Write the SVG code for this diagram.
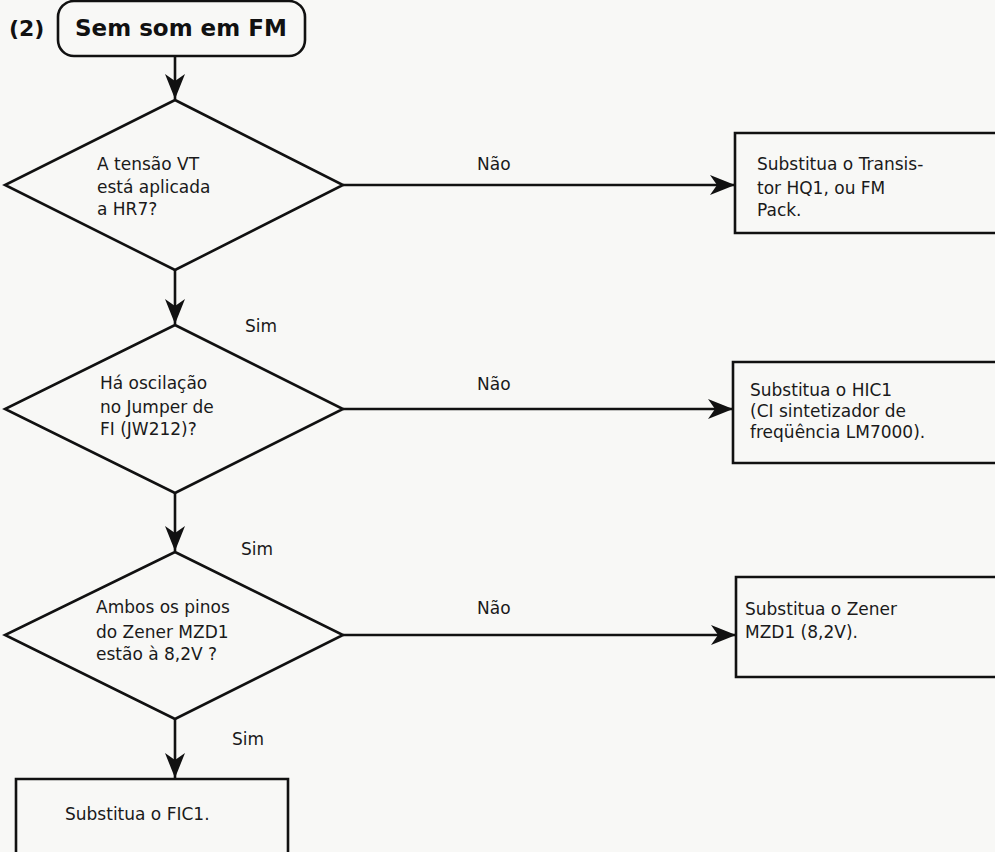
<svg xmlns="http://www.w3.org/2000/svg" width="995" height="852" viewBox="0 0 995 852">
<style>
  .bg { fill: #f8f8f6; }
  .shape { fill: none; stroke: #111; stroke-width: 2.6; stroke-linejoin: miter; }
  .conn { fill: none; stroke: #111; stroke-width: 2.6; }
  .t { font-family: "DejaVu Sans", "Liberation Sans", sans-serif; font-size: 17px; fill: #1a1a1a; }
  .title { font-family: "DejaVu Sans", "Liberation Sans", sans-serif; font-size: 23px; font-weight: bold; fill: #111; }
</style>
<defs>
  <marker id="arr" markerUnits="userSpaceOnUse" markerWidth="26" markerHeight="20" refX="25" refY="10" orient="auto">
    <path d="M0,0 L25,10 L0,20 L7,10 Z" fill="#111"/>
  </marker>
</defs>
<rect class="bg" x="0" y="0" width="995" height="852"/>

<g id="title">
  <text class="title" x="9" y="36" style="font-size:22px">(2)</text>
  <rect class="shape" x="58" y="1" width="247" height="55" rx="16"/>
  <text class="title" x="75" y="36">Sem som em FM</text>
</g>

<g id="d1">
  <polygon class="shape" points="175,100 343,185 175,270 5,185"/>
  <text class="t" x="97" y="170">A tensão VT</text>
  <text class="t" x="97" y="193">está aplicada</text>
  <text class="t" x="97" y="215">a HR7?</text>
</g>

<g id="b1">
  <path class="shape" d="M1000,133 H735 V233 H1000"/>
  <text class="t" x="757" y="170">Substitua o Transis-</text>
  <text class="t" x="757" y="194">tor HQ1, ou FM</text>
  <text class="t" x="757" y="216">Pack.</text>
</g>

<g id="d2">
  <polygon class="shape" points="175,325 343,409 175,493 5,409"/>
  <text class="t" x="100" y="389">Há oscilação</text>
  <text class="t" x="100" y="413">no Jumper de</text>
  <text class="t" x="100" y="435">FI (JW212)?</text>
</g>

<g id="b2">
  <path class="shape" d="M1000,362 H733 V463 H1000"/>
  <text class="t" x="750" y="396">Substitua o HIC1</text>
  <text class="t" x="750" y="417">(CI sintetizador de</text>
  <text class="t" x="750" y="438">freqüência LM7000).</text>
</g>

<g id="d3">
  <polygon class="shape" points="175,552 343,635 175,719 5,635"/>
  <text class="t" x="96" y="613">Ambos os pinos</text>
  <text class="t" x="96" y="638">do Zener MZD1</text>
  <text class="t" x="96" y="660">estão à 8,2V ?</text>
</g>

<g id="b3">
  <path class="shape" d="M1000,577 H736 V677 H1000"/>
  <text class="t" x="745" y="615">Substitua o Zener</text>
  <text class="t" x="745" y="638">MZD1 (8,2V).</text>
</g>

<g id="b4">
  <path class="shape" d="M16,860 V779 H288 V860"/>
  <text class="t" x="65" y="820">Substitua o FIC1.</text>
</g>

<g id="connectors">
  <line class="conn" x1="175" y1="56" x2="175" y2="99" marker-end="url(#arr)"/>
  <line class="conn" x1="343" y1="185" x2="735" y2="185" marker-end="url(#arr)"/>
  <line class="conn" x1="175" y1="270" x2="175" y2="324" marker-end="url(#arr)"/>
  <line class="conn" x1="343" y1="409" x2="733" y2="409" marker-end="url(#arr)"/>
  <line class="conn" x1="175" y1="493" x2="175" y2="551" marker-end="url(#arr)"/>
  <line class="conn" x1="343" y1="635" x2="736" y2="635" marker-end="url(#arr)"/>
  <line class="conn" x1="175" y1="719" x2="175" y2="778" marker-end="url(#arr)"/>
  <text class="t" x="477" y="170">Não</text>
  <text class="t" x="477" y="390">Não</text>
  <text class="t" x="477" y="614">Não</text>
  <text class="t" x="245" y="332">Sim</text>
  <text class="t" x="241" y="555">Sim</text>
  <text class="t" x="232" y="745">Sim</text>
</g>
</svg>
